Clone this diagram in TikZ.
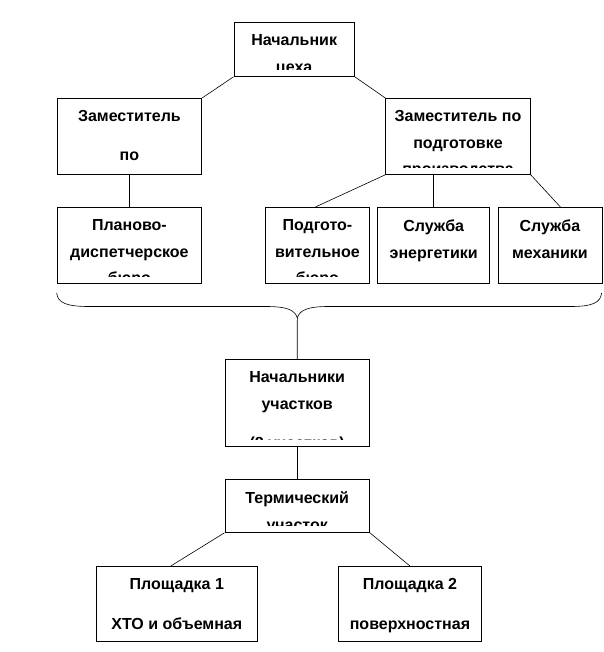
\documentclass[tikz,border=0pt]{standalone}
\usepackage{fontspec}
\setmainfont{Liberation Sans}

\tikzset{
  caption/.style={font=\bfseries\fontsize{16}{26.5}\selectfont, align=center,
    anchor=north, inner sep=0pt, draw=none, minimum width=0pt, minimum height=0pt},
  unit/.style={draw, line width=0.8pt, anchor=north west, inner sep=0pt,
    path picture={\clip ([yshift=7pt]path picture bounding box.south west)
        rectangle (path picture bounding box.north east);
      \node[caption] at ([yshift=-12pt]path picture bounding box.north) {#1};}},
  link/.style={line width=0.6pt},
}

\begin{document}
\begin{tikzpicture}[x=1pt,y=-1pt]
    \useasboundingbox (0,0) rectangle (603,652);
    \node[unit={Начальник\\цеха}, minimum width=120.5, minimum height=54](chief) at (233.5,22) {};
    \node[unit={Заместитель\\[12pt]по}, minimum width=144.6, minimum height=76](depl) at (56.7,98) {};
    \node[unit={Заместитель по\\подготовке\\производства}, minimum width=144.6, minimum height=76](depr) at (385.3,98) {};
    \node[unit={Планово-\\диспетчерское\\бюро}, minimum width=144.6, minimum height=76](plan) at (56.7,207) {};
    \node[unit={Подгото-\\вительное\\бюро}, minimum width=104, minimum height=76](prep) at (265,207) {};
    \node[unit={Служба\\энергетики}, minimum width=112.2, minimum height=76](energy) at (377.2,207) {};
    \node[unit={Служба\\механики}, minimum width=104, minimum height=76](mech) at (497.5,207) {};
    \node[unit={Начальники\\участков\\[12.5pt](8 участков)}, minimum width=144.6, minimum height=87](heads) at (224.5,359) {};
    \node[unit={Термический\\участок}, minimum width=144.6, minimum height=53](therm) at (224.5,479) {};
    \node[unit={Площадка 1\\[13.5pt]ХТО и объемная}, minimum width=160.8, minimum height=75](site1) at (96,566) {};
    \node[unit={Площадка 2\\[13.5pt]поверхностная}, minimum width=143.5, minimum height=75](site2) at (337.8,566) {};
    % brace under the services
    \draw[link] (56.7,293) .. controls (57.5,303) and (67,306.5) .. (89,306.5) -- (266,306.5)
        .. controls (287,306.5) and (295,310) .. (297.3,318) coordinate (tip)
        .. controls (299.5,310) and (308,306.5) .. (328.6,306.5) -- (570.4,306.5)
        .. controls (592,306.5) and (600.5,303) .. (601.6,293);
    \draw[link] (chief.south west) -- (depl.north east);
    \draw[link] (chief.south east) -- (depr.north west);
    \draw[link] (depl.south) -- (plan.north);
    \draw[link] (depr.south west) -- ([xshift=-2]prep.north);
    \draw[link] (energy.north) -- (energy.north |- depr.south);
    \draw[link] (depr.south east) -- ([xshift=10.5]mech.north);
    \draw[link] (tip) -- (heads.north);
    \draw[link] (heads.south) -- (therm.north);
    \draw[link] (therm.south west) -- ([xshift=-6]site1.north);
    \draw[link] (therm.south east) -- (site2.north);
\end{tikzpicture}
\end{document}
